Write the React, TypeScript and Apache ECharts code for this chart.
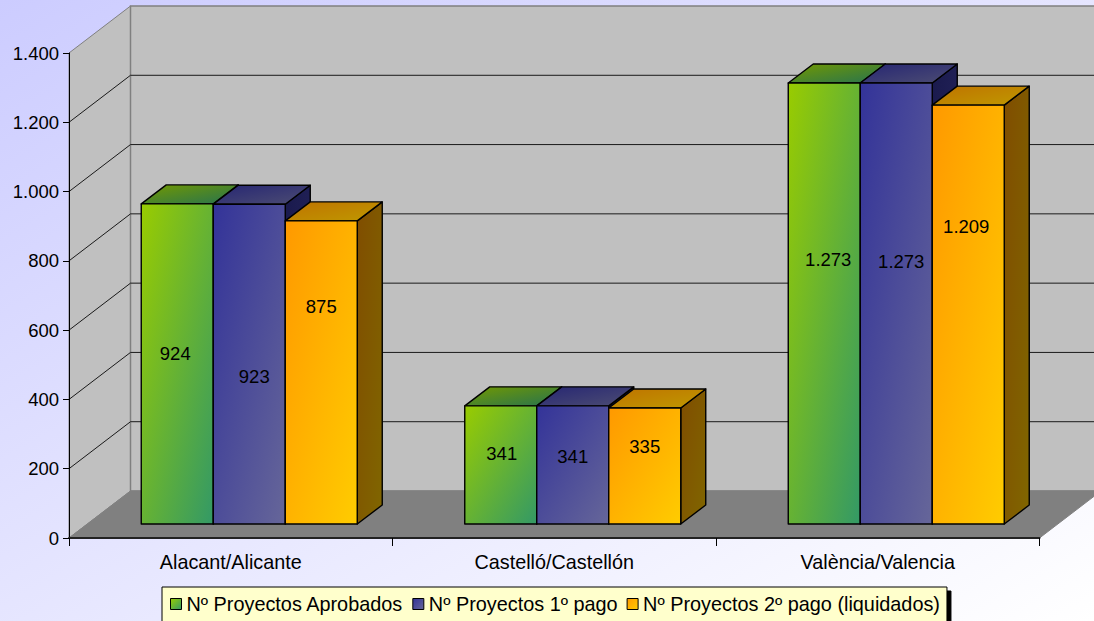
import React, { useEffect, useRef } from "react";
import * as echarts from "echarts";

const categories = ["Alacant/Alicante", "Castelló/Castellón", "València/Valencia"];
const seriesNames = ["Nº Proyectos Aprobados", "Nº Proyectos 1º pago", "Nº Proyectos 2º pago (liquidados)"];
const aprobados = [924, 341, 1273];
const primerPago = [923, 341, 1273];
const segundoPago = [875, 335, 1209];
const yTicks = [0, 200, 400, 600, 800, 1000, 1200, 1400];

// hand-placed data labels in the reference: offset from the middle of each front face
const labelDx = [[-2, 5, 0], [1, 0, 0], [4, 5, -2]];
const labelDy = [[-10, 12, -66], [-11, -8, -19], [-44, -42, -88]];

const FONT = '"Liberation Sans", Arial, sans-serif';
const WALL_DX = 61.5;
const WALL_DY = 47;
const BAR_SHIFT_X = 18.5;
const BAR_SHIFT_Y = 14;
const BAR_DEPTH_X = 25;
const BAR_DEPTH_Y = 19;
const BAR_RATIO = 72 / 323.5;

const grad = (a: string, b: string) =>
  new echarts.graphic.LinearGradient(0, 0, 1, 1, [
    { offset: 0, color: a },
    { offset: 1, color: b },
  ]);

const palette = [
  { front: ["#99CC00", "#339966"], top: ["#739900", "#267350"], side: ["#4D6600", "#1A4D33"] },
  { front: ["#333399", "#666699"], top: ["#262673", "#4D4D73"], side: ["#1A1A4D", "#24245C"] },
  { front: ["#FF9900", "#FFCC00"], top: ["#BF7300", "#BF9900"], side: ["#804D00", "#806600"] },
];

const fmt = (v: number) => String(v).replace(/\B(?=(\d{3})+(?!\d))/g, ".");

function wallItem(params: any, api: any) {
  const v = api.value(1) as number;
  const cs = params.coordSys;
  const y = api.coord([0, v])[1];
  const left = cs.x;
  const right = cs.x + cs.width;
  const children: any[] = [];
  if (params.dataIndex === 0) {
    const top = cs.y;
    const bottom = cs.y + cs.height;
    children.push(
      {
        type: "polygon",
        shape: { points: [[left, top], [left + WALL_DX, top - WALL_DY], [left + WALL_DX, bottom - WALL_DY], [left, bottom]] },
        style: { fill: "#C0C0C0", stroke: "#808080", lineWidth: 1 },
      },
      {
        type: "polygon",
        shape: { points: [[left + WALL_DX, top - WALL_DY], [right + WALL_DX, top - WALL_DY], [right + WALL_DX, bottom - WALL_DY], [left + WALL_DX, bottom - WALL_DY]] },
        style: { fill: "#C0C0C0", stroke: "#808080", lineWidth: 1.5 },
      },
      {
        type: "polygon",
        shape: { points: [[left, bottom], [right, bottom], [right + WALL_DX, bottom - WALL_DY], [left + WALL_DX, bottom - WALL_DY]] },
        style: { fill: "#808080", stroke: "#808080", lineWidth: 1 },
      }
    );
  } else if (v < 1400) {
    children.push({
      type: "polyline",
      shape: { points: [[left, y], [left + WALL_DX, y - WALL_DY], [right + WALL_DX, y - WALL_DY]] },
      style: { fill: "none", stroke: "#1a1a1a", lineWidth: 1 },
    });
  }
  return { type: "group", children };
}

const barItem = (s: number) => (params: any, api: any) => {
  const c = api.value(0) as number;
  const v = api.value(1) as number;
  const band = api.size([1, 0])[0];
  const w = band * BAR_RATIO;
  const [cx, yTop] = api.coord([c, v]);
  const yBase = api.coord([c, 0])[1];
  const x0 = cx - 1.5 * w + s * w + BAR_SHIFT_X;
  const x1 = x0 + w;
  const t = yTop - BAR_SHIFT_Y;
  const b = yBase - BAR_SHIFT_Y;
  const p = palette[s];
  const edge = { stroke: "#000", lineWidth: 1.4, lineJoin: "round" };
  return {
    type: "group",
    children: [
      {
        type: "polygon",
        shape: { points: [[x1, t], [x1 + BAR_DEPTH_X, t - BAR_DEPTH_Y], [x1 + BAR_DEPTH_X, b - BAR_DEPTH_Y], [x1, b]] },
        style: { fill: grad(p.side[0], p.side[1]), ...edge },
      },
      {
        type: "polygon",
        shape: { points: [[x0, t], [x0 + BAR_DEPTH_X, t - BAR_DEPTH_Y], [x1 + BAR_DEPTH_X, t - BAR_DEPTH_Y], [x1, t]] },
        style: { fill: grad(p.top[0], p.top[1]), ...edge },
      },
      {
        type: "rect",
        shape: { x: x0, y: t, width: w, height: b - t },
        style: { fill: grad(p.front[0], p.front[1]), ...edge },
      },
      {
        type: "text",
        style: {
          text: fmt(v),
          x: (x0 + x1) / 2 + labelDx[c][s],
          y: (t + b) / 2 + labelDy[c][s],
          align: "center",
          verticalAlign: "middle",
          fontFamily: FONT,
          fontSize: 18.5,
          fill: "#000",
        },
      },
    ],
  };
};

export default function App() {
  const ref = useRef<HTMLDivElement>(null);
  useEffect(() => {
    document.body.style.margin = "0";
    const chart = echarts.init(ref.current!, undefined, { renderer: "svg" });
    const values = [aprobados, primerPago, segundoPago];
    chart.setOption({
      animation: false,
      backgroundColor: grad("#CCCCFF", "#FFFFFF"),
      grid: { left: 69, top: 53, width: 970.5, height: 485 },
      xAxis: {
        type: "category",
        data: categories,
        z: 5,
        axisLine: { show: true, lineStyle: { color: "#222", width: 2 } },
        axisTick: { show: true, length: 8, lineStyle: { color: "#000", width: 1 } },
        axisLabel: { color: "#000", fontFamily: FONT, fontSize: 19.8, margin: 14 },
        splitLine: { show: false },
      },
      yAxis: {
        type: "value",
        min: 0,
        max: 1400,
        interval: 200,
        z: 5,
        axisLine: { show: true, lineStyle: { color: "#000", width: 1 } },
        axisTick: { show: true, length: 6, lineStyle: { color: "#000", width: 1 } },
        axisLabel: { color: "#000", fontFamily: FONT, fontSize: 18.5, margin: 10, formatter: (v: number) => fmt(v) },
        splitLine: { show: false },
      },
      legend: {
        left: 162,
        top: 587,
        data: seriesNames,
        icon: "rect",
        itemWidth: 11,
        itemHeight: 11,
        itemGap: 9,
        padding: [7, 7, 12, 8],
        backgroundColor: "#FFFFCC",
        borderColor: "#000",
        borderWidth: 1,
        shadowColor: "#000",
        shadowOffsetX: 4,
        shadowOffsetY: 4,
        shadowBlur: 0,
        selectedMode: false,
        textStyle: { color: "#000", fontFamily: FONT, fontSize: 19.85 },
        itemStyle: { borderColor: "#000", borderWidth: 1 },
      },
      series: [
        {
          type: "custom",
          name: "walls",
          z: 1,
          silent: true,
          renderItem: wallItem,
          encode: { x: 0, y: 1 },
          data: yTicks.map((v) => [0, v]),
        },
        ...seriesNames.map((name, s) => ({
          type: "custom",
          name,
          z: 2 + s,
          silent: true,
          itemStyle: { color: grad(palette[s].front[0], palette[s].front[1]) },
          renderItem: barItem(s),
          encode: { x: 0, y: 1 },
          data: values[s].map((v, i) => [i, v]),
        })),
      ],
    });
    return () => chart.dispose();
  }, []);
  return <div ref={ref} style={{ position: "absolute", left: 0, top: 0, width: 1094, height: 621 }} />;
}
